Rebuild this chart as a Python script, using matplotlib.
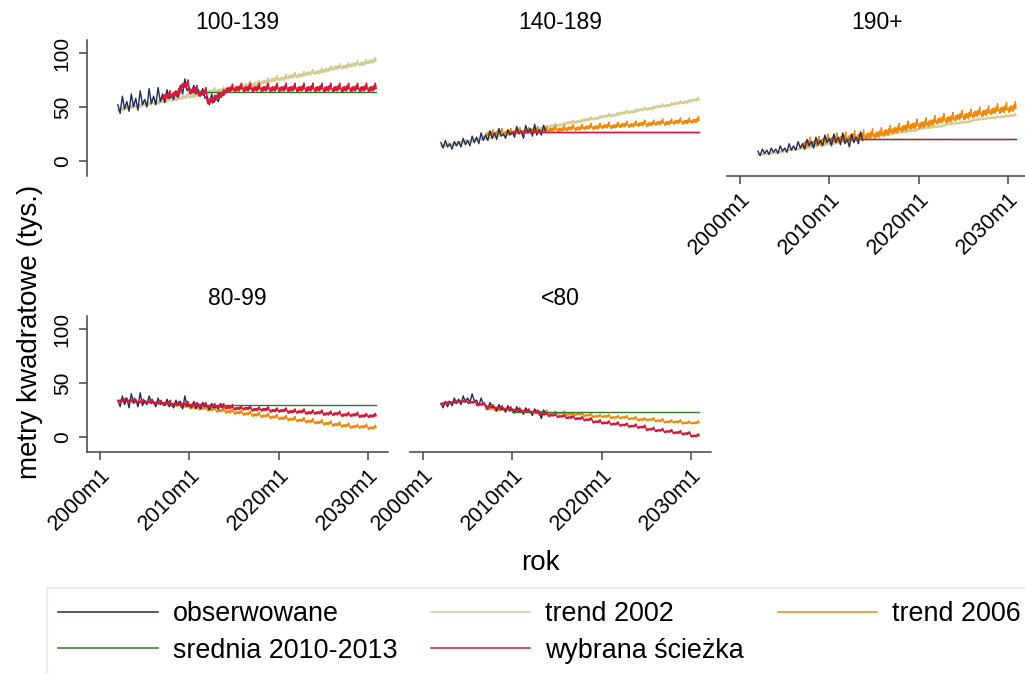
import numpy as np
import matplotlib.pyplot as plt
from matplotlib.lines import Line2D
from matplotlib.patches import Rectangle

plt.rcParams['font.family'] = ['Liberation Sans', 'DejaVu Sans']

# panele (grupy powierzchni)
panels = ['100-139', '140-189', '190+', '80-99', '<80']

# obserwowane, kwartalnie 2002q1-2013q4
obs = {
    '100-139': [52, 44, 60, 48, 55, 46, 62, 50, 58, 47, 65, 52,
                57, 50, 67, 53, 60, 52, 68, 55, 62, 54, 66, 58,
                60, 57, 65, 59, 70, 62, 76, 65, 68, 63, 70, 62,
                66, 60, 67, 58, 60, 52, 62, 54, 58, 55, 63, 61],
    '140-189': [17, 12, 19, 13, 16, 11, 18, 14, 18, 13, 21, 15,
                19, 14, 23, 17, 22, 16, 26, 19, 24, 19, 28, 21,
                26, 20, 30, 23, 25, 21, 29, 24, 27, 22, 32, 25,
                28, 21, 33, 26, 30, 23, 34, 24, 29, 24, 33, 27],
    '190+':    [9, 5, 11, 7, 10, 6, 12, 8, 11, 7, 14, 9,
                12, 8, 16, 10, 14, 10, 18, 12, 16, 11, 20, 14,
                18, 12, 22, 15, 19, 14, 24, 17, 21, 14, 25, 17,
                22, 15, 26, 16, 20, 13, 25, 17, 22, 16, 27, 19],
    '80-99':   [34, 28, 38, 30, 36, 27, 40, 31, 35, 28, 41, 29,
                34, 30, 38, 31, 33, 28, 36, 30, 32, 29, 35, 28,
                31, 27, 34, 29, 33, 26, 38, 28, 30, 27, 33, 26,
                31, 26, 32, 28, 29, 25, 31, 27, 28, 26, 31, 27],
    '<80':     [31, 27, 33, 28, 33, 29, 36, 31, 35, 30, 38, 32,
                36, 32, 40, 33, 34, 29, 36, 30, 30, 26, 32, 27,
                28, 24, 30, 25, 27, 23, 29, 24, 26, 22, 28, 23,
                25, 21, 27, 23, 24, 20, 26, 22, 24, 17, 25, 21],
}

# trend 2002: poziom roczny (minimum sezonowe) 2002-2030
trend02 = {
    '100-139': [46, 48, 49, 51, 52, 54, 55, 57, 58, 60, 62, 63, 65, 66, 68,
                69, 71, 73, 74, 76, 77, 79, 80, 82, 84, 85, 87, 88, 90],
    '140-189': [13, 14, 16, 17, 19, 20, 22, 23, 25, 26, 28, 29, 31, 32, 34,
                35, 37, 38, 40, 41, 43, 44, 46, 47, 49, 50, 52, 53, 55],
    '190+':    [5, 6, 7, 9, 10, 11, 13, 14, 15, 17, 18, 19, 21, 22, 23,
                25, 26, 27, 29, 30, 31, 33, 34, 35, 37, 38, 39, 40, 41],
    '80-99':   [32, 32, 31, 31, 30, 30, 29, 29, 28, 28, 27, 27, 26, 25, 25,
                24, 24, 23, 23, 22, 22, 21, 21, 20, 20, 19, 19, 18, 18],
    '<80':     [30, 31, 32, 31, 29, 27, 26, 25, 24, 23, 22, 20, 19, 18, 17,
                16, 15, 13, 12, 11, 10, 9, 8, 6, 5, 4, 3, 2, 0],
}
trend02_amp = {'100-139': 6, '140-189': 4, '190+': 3, '80-99': 4, '<80': 3}

# trend 2006: poziom roczny 2007-2030
trend06 = {
    '100-139': [57, 59, 67, 62, 60, 53, 58, 63, 64, 64, 64, 64,
                64, 64, 64, 64, 64, 64, 64, 64, 64, 64, 64, 64],
    '140-189': [23, 24, 24, 25, 25, 26, 26, 27, 27, 28, 28, 29,
                29, 30, 30, 31, 31, 32, 32, 33, 33, 34, 34, 35],
    '190+':    [12, 13, 15, 16, 17, 18, 19, 20, 21, 23, 25, 27,
                29, 30, 32, 34, 35, 37, 38, 40, 41, 43, 44, 45],
    '80-99':   [29, 28, 27, 26, 25, 24, 23, 22, 21, 20, 19, 18,
                17, 16, 15, 14, 13, 12, 11, 10, 9, 8, 8, 7],
    '<80':     [25, 24, 24, 23, 23, 22, 22, 21, 21, 20, 20, 19,
                18, 18, 17, 17, 16, 15, 15, 14, 13, 13, 12, 12],
}
trend06_amp = {'100-139': 8, '140-189': 6, '190+': 10, '80-99': 4, '<80': 3}

# srednia 2010-2013 (od 2010m1)
srednia = {'100-139': 64, '140-189': 27, '190+': 20, '80-99': 30, '<80': 23}

# ktora sciezka zostala wybrana
wybrana = {'100-139': 'trend06', '140-189': 'srednia', '190+': 'srednia',
           '80-99': 'trend02', '<80': 'trend02'}

# profil sezonowy (m1..m12)
season = [0.3, 0.0, 0.5, 0.1, 0.6, 0.2, 0.55, 0.1, 0.7, 0.3, 1.0, 0.4]

labels = ['obserwowane', 'trend 2002', 'trend 2006',
          'srednia 2010-2013', 'wybrana ścieżka']
colors = ['#1f2c5c', '#d5cb94', '#f08a0b', '#2b7d2b', '#d8183f']

W, H = 1025, 673
fig = plt.figure(figsize=(W / 100, H / 100), dpi=100)

# pozycje paneli w pikselach: (lewa, dolna)
pos = {'100-139': (87, 176), '140-189': (410, 176), '190+': (727, 176),
       '80-99': (87, 452), '<80': (410, 452)}
show_y = {'100-139', '80-99'}
show_x = {'190+', '80-99', '<80'}


def monthly(levels, amp, start):
    t = start + np.arange(len(levels) * 12) / 12
    y = np.repeat(levels, 12) + np.tile(season, len(levels)) * amp
    return t, y


for p in panels:
    x0, y0 = pos[p]
    ax = fig.add_axes([x0 / W, 1 - y0 / H, 301 / W, 136 / H])
    ax.set_xlim(1998.54, 2032.25)
    ax.set_ylim(-13.9, 112)

    series = {}
    series['trend02'] = monthly(trend02[p], trend02_amp[p], 2002)
    series['trend06'] = monthly(trend06[p], trend06_amp[p], 2007)
    ts = 2010 + np.arange(21 * 12) / 12
    series['srednia'] = (ts, np.full(len(ts), srednia[p]))
    tq = 2002 + np.arange(len(obs[p])) * 0.25

    ax.plot(*series['trend02'], color=colors[1], lw=1.0, zorder=1)
    ax.plot(*series['trend06'], color=colors[2], lw=1.0, zorder=2)
    ax.plot(tq, obs[p], color=colors[0], lw=1.0, zorder=3)
    ax.plot(*series['srednia'], color=colors[3], lw=1.0, zorder=4)
    ax.plot(*series[wybrana[p]], color=colors[4], lw=1.0, zorder=5)

    ax.set_title(p, fontsize=16.5, pad=8)
    for s in ['top', 'right']:
        ax.spines[s].set_visible(False)
    ax.spines['left'].set_visible(p in show_y)
    ax.spines['bottom'].set_visible(p in show_x)
    for s in ['left', 'bottom']:
        ax.spines[s].set_color('#444444')
        ax.spines[s].set_linewidth(1.1)

    if p in show_y:
        ax.set_yticks([0, 50, 100])
        ax.set_yticklabels(['0', '50', '100'], rotation=90, va='center',
                           fontsize=15)
        ax.tick_params(axis='y', length=6, width=1.1, color='#444444', pad=5)
    else:
        ax.set_yticks([])
    if p in show_x:
        ax.set_xticks([2000, 2010, 2020, 2030])
        ax.set_xticklabels(['2000m1', '2010m1', '2020m1', '2030m1'],
                           rotation=45, ha='right', va='top',
                           rotation_mode='anchor', fontsize=15.5)
        ax.tick_params(axis='x', length=6, width=1.1, color='#444444', pad=3)
    else:
        ax.set_xticks([])
    ax.patch.set_alpha(0)

fig.text(30 / W, 1 - 332 / H, 'metry kwadratowe (tys.)', rotation=90,
         ha='center', va='center', fontsize=20)
fig.text(540 / W, 1 - 563 / H, 'rok', ha='center', va='center', fontsize=20)

# legenda
fig.add_artist(Rectangle((47 / W, -0.02), 1.0, (H - 588) / H + 0.02,
                         transform=fig.transFigure, facecolor='none',
                         edgecolor='#e4ecef', lw=1.5))
order = [0, 3, 1, 4, 2]
handles = [Line2D([], [], color=colors[i], lw=1.1) for i in order]
fig.legend(handles, [labels[i] for i in order], ncol=3, frameon=False,
           loc='upper left', bbox_to_anchor=(58 / W, 1 - 601 / H),
           borderpad=0, borderaxespad=0, fontsize=19.4, handlelength=3.7,
           handletextpad=0.55, columnspacing=1.25, labelspacing=0.4)

fig.savefig('out.png', dpi=100)
